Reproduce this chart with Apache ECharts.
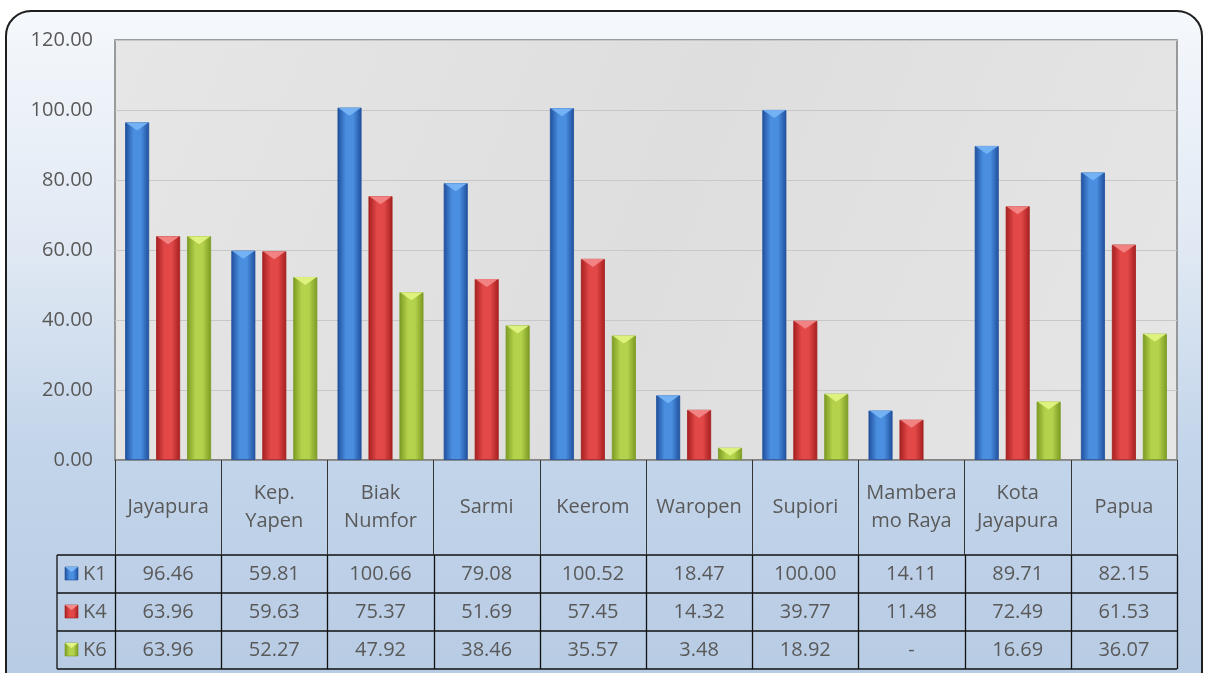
<!DOCTYPE html>
<html>
<head>
<meta charset="utf-8">
<script src="https://cdn.jsdelivr.net/npm/echarts@6/dist/echarts.min.js"></script>
<style>
  html, body { margin: 0; padding: 0; background: #ffffff; }
  #frame {
    position: absolute; left: 5px; top: 10px; width: 1194px; height: 700px;
    border: 2.5px solid #1e1e1e; border-radius: 26px;
    background: linear-gradient(to bottom, #f5f8fc 0%, #dfe8f3 35%, #c3d5ea 62%, #b6cae3 100%);
  }
  #chart { position: absolute; left: 0; top: 0; width: 1208px; height: 673px; }
</style>
</head>
<body>
<div id="frame"></div>
<div id="chart"></div>
<script>
// kategori (kabupaten / kota)
const categories = ['Jayapura', 'Kep.\nYapen', 'Biak\nNumfor', 'Sarmi', 'Keerom', 'Waropen', 'Supiori', 'Mambera\nmo Raya', 'Kota\nJayapura', 'Papua'];
// nilai tiap seri
const k1 = [96.46, 59.81, 100.66, 79.08, 100.52, 18.47, 100.00, 14.11, 89.71, 82.15];
const k4 = [63.96, 59.63, 75.37, 51.69, 57.45, 14.32, 39.77, 11.48, 72.49, 61.53];
const k6 = [63.96, 52.27, 47.92, 38.46, 35.57, 3.48, 18.92, null, 16.69, 36.07];
const seriesNames = ['K1', 'K4', 'K6'];

const chart = echarts.init(document.getElementById('chart'));

// warna: [gelap, terang, ujung segitiga]
const palette = [
    ['#1f4f9c', '#4a8ee0', '#78b6f6'],
    ['#a51f1f', '#e24848', '#f58a8a'],
    ['#7a9a22', '#b5d24c', '#e2f584']
];
const font = '"Open Sans", sans-serif';
const textColor = '#595959';

// ukuran grid
const gLeft = 115, gRight = 1177, gTop = 40, gBottom = 460;
const colW = (gRight - gLeft) / categories.length;
const rowTops = [555, 593, 631, 669];

function barGradient(c) {
    return new echarts.graphic.LinearGradient(0, 0, 1, 0, [
        { offset: 0, color: c[0] },
        { offset: 0.35, color: c[1] },
        { offset: 0.65, color: c[1] },
        { offset: 1, color: c[0] }
    ]);
}

const dataSets = [k1, k4, k6];
const series = [];
dataSets.forEach((d, s) => {
    series.push({
        name: seriesNames[s],
        type: 'bar',
        barWidth: 24,
        barGap: '29%',
        data: d,
        itemStyle: {
            color: barGradient(palette[s]),
            borderColor: palette[s][0],
            borderWidth: 0.8
        },
        z: 2
    });
});
dataSets.forEach((d, s) => {
    series.push({
        name: seriesNames[s] + '-cap',
        type: 'pictorialBar',
        barWidth: 24,
        barGap: '29%',
        data: d,
        symbol: 'path://M0,0 L10,0 L5,4 Z',
        symbolSize: [23, 8],
        symbolPosition: 'end',
        symbolOffset: [0, 0],
        itemStyle: { color: palette[s][2], opacity: 0.9 },
        silent: true,
        z: 3
    });
});

// tabel data di bawah sumbu
const graphics = [];
const lineStyle = { stroke: '#111111', lineWidth: 1.3 };
rowTops.forEach(y => {
    graphics.push({ type: 'line', shape: { x1: 57, y1: y, x2: gRight, y2: y }, style: lineStyle, silent: true });
});
graphics.push({ type: 'line', shape: { x1: 57, y1: rowTops[0], x2: 57, y2: rowTops[3] }, style: lineStyle, silent: true });
for (let i = 0; i <= categories.length; i++) {
    const x = Math.round(gLeft + i * colW) + 0.5;
    graphics.push({ type: 'line', shape: { x1: x, y1: rowTops[0], x2: x, y2: rowTops[3] }, style: lineStyle, silent: true });
}
dataSets.forEach((d, r) => {
    const cy = (rowTops[r] + rowTops[r + 1]) / 2;
    // ikon legenda
    graphics.push({
        type: 'rect',
        shape: { x: 65, y: cy - 7, width: 13, height: 13 },
        style: { fill: barGradient(palette[r]), stroke: palette[r][0], lineWidth: 0.6 },
        silent: true
    });
    graphics.push({
        type: 'polygon',
        shape: { points: [[65, cy - 7], [78, cy - 7], [71.5, cy - 2]] },
        style: { fill: palette[r][2] },
        silent: true
    });
    graphics.push({
        type: 'text',
        style: { text: seriesNames[r], x: 83, y: cy, textVerticalAlign: 'middle', fill: textColor, font: '20px ' + font },
        silent: true
    });
    d.forEach((v, i) => {
        graphics.push({
            type: 'text',
            style: {
                text: v == null ? '-' : v.toFixed(2),
                x: gLeft + (i + 0.5) * colW,
                y: cy,
                textAlign: 'center',
                textVerticalAlign: 'middle',
                fill: textColor,
                font: '20px ' + font
            },
            silent: true
        });
    });
});

const option = {
    animation: false,
    backgroundColor: 'transparent',
    grid: {
        left: gLeft, right: 1208 - gRight, top: gTop, bottom: 673 - gBottom,
        show: true,
        backgroundColor: new echarts.graphic.LinearGradient(0, 0, 1, 1, [
            { offset: 0, color: '#e6e6e6' },
            { offset: 0.5, color: '#dedede' },
            { offset: 1, color: '#e6e6e6' }
        ]),
        borderColor: '#7f7f7f',
        borderWidth: 1.5
    },
    xAxis: {
        type: 'category',
        data: categories,
        axisLine: { lineStyle: { color: '#7f7f7f', width: 1.5 } },
        axisTick: { show: true, length: 95, lineStyle: { color: '#333333', width: 1 } },
        axisLabel: {
            interval: 0,
            margin: 47,
            verticalAlign: 'middle',
            lineHeight: 28,
            fontSize: 20,
            fontFamily: font,
            color: textColor
        }
    },
    yAxis: {
        type: 'value',
        min: 0,
        max: 120,
        interval: 20,
        axisLine: { show: false },
        axisTick: { show: false },
        splitLine: { lineStyle: { color: '#c8c8c8', width: 1 } },
        axisLabel: {
            margin: 22,
            fontSize: 20,
            fontFamily: font,
            color: textColor,
            formatter: v => v.toFixed(2)
        }
    },
    series: series,
    graphic: graphics
};
chart.setOption(option);
</script>
</body>
</html>
